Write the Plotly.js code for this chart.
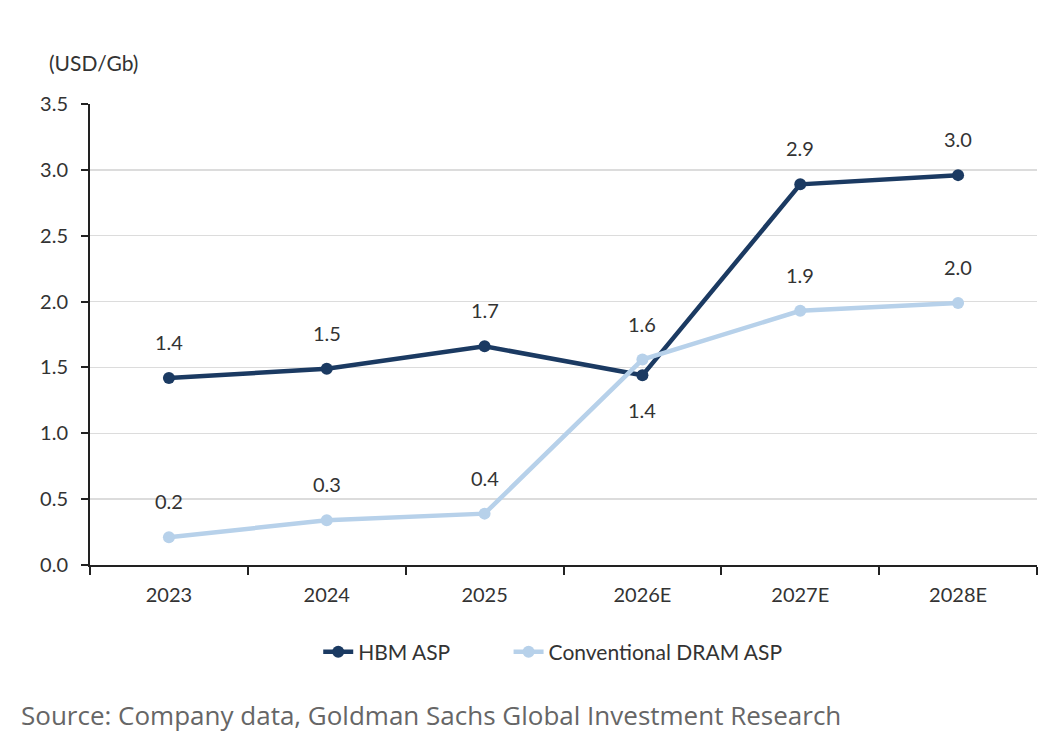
<!DOCTYPE html>
<html>
<head>
<meta charset="utf-8">
<script src="https://cdn.plot.ly/plotly-3.0.1.min.js"></script>
<style>html,body{margin:0;padding:0;background:#fff;}#chart{width:1060px;height:734px;}</style>
</head>
<body>
<div id="chart"></div>
<script>
const categories = ["2023", "2024", "2025", "2026E", "2027E", "2028E"];
const hbmASP = [1.42, 1.49, 1.66, 1.44, 2.89, 2.96];
const dramASP = [0.21, 0.34, 0.39, 1.56, 1.93, 1.99];
const hbmLabelBelow = [false, false, false, true, false, false];
const yTickVals = [0, 0.5, 1, 1.5, 2, 2.5, 3, 3.5];

const FONT = "Lato, 'Open Sans', sans-serif";
const HBM_COLOR = "#1b3a62";
const DRAM_COLOR = "#b7d1ea";
const TXT = "#333";

const traces = [
  {
    x: categories, y: hbmASP, name: "HBM ASP", type: "scatter", mode: "lines+markers",
    line: {color: HBM_COLOR, width: 4.5}, marker: {color: HBM_COLOR, size: 12}, legend: "legend"
  },
  {
    x: categories, y: dramASP, name: "Conventional DRAM ASP", type: "scatter", mode: "lines+markers",
    line: {color: DRAM_COLOR, width: 4.5}, marker: {color: DRAM_COLOR, size: 12}, legend: "legend2"
  }
];

const annotations = [];
categories.forEach((c, i) => {
  annotations.push({x: i, y: hbmASP[i], xref: "x", yref: "y", text: hbmASP[i].toFixed(1),
    showarrow: false, yshift: hbmLabelBelow[i] ? -35 : 36, font: {family: FONT, size: 20, color: TXT}});
  annotations.push({x: i, y: dramASP[i], xref: "x", yref: "y", text: dramASP[i].toFixed(1),
    showarrow: false, yshift: 36, font: {family: FONT, size: 20, color: TXT}});
});
annotations.push({xref: "paper", yref: "paper", x: -0.045, y: 1.09, xanchor: "left", yanchor: "middle",
  text: "(USD/Gb)", showarrow: false, font: {family: FONT, size: 21, color: TXT}});
annotations.push({xref: "paper", yref: "paper", x: -0.074, y: -0.325, xanchor: "left", yanchor: "middle",
  text: "Source: Company data, Goldman Sachs Global Investment Research", showarrow: false, borderpad: 0,
  font: {family: "'Open Sans', sans-serif", size: 26, color: "#666"}});

const legendCommon = {orientation: "h", xanchor: "left", y: -0.189, yanchor: "middle",
  font: {family: FONT, size: 21, color: TXT}, bgcolor: "rgba(0,0,0,0)"};

const layout = {
  width: 1060, height: 734,
  margin: {l: 90, r: 23, t: 104, b: 169},
  paper_bgcolor: "#fff", plot_bgcolor: "#fff",
  font: {family: FONT, size: 20, color: TXT},
  showlegend: true,
  legend: Object.assign({}, legendCommon, {x: 0.241}),
  legend2: Object.assign({}, legendCommon, {x: 0.442}),
  xaxis: {
    type: "category", range: [-0.5, 5.5], autorange: false, showgrid: false, showline: true, linecolor: "#222", linewidth: 2,
    ticks: "outside", tickson: "boundaries", ticklen: 8, tickcolor: "#222", tickwidth: 2, tickangle: 0,
    tickfont: {family: FONT, size: 20, color: TXT}, zeroline: false, ticklabelstandoff: 11
  },
  yaxis: {
    range: [0, 3.5], autorange: false, tickvals: yTickVals, ticktext: yTickVals.map(v => v.toFixed(1)),
    showgrid: true, gridcolor: "#dcdcdc", gridwidth: 1.5,
    showline: true, linecolor: "#222", linewidth: 2, ticks: "outside", ticklen: 7, tickcolor: "#222", tickwidth: 2,
    tickfont: {family: FONT, size: 20, color: TXT}, zeroline: false, ticklabelstandoff: 9
  },
  annotations: annotations
};

Plotly.newPlot("chart", traces, layout, {displayModeBar: false, staticPlot: true});
</script>
</body>
</html>
